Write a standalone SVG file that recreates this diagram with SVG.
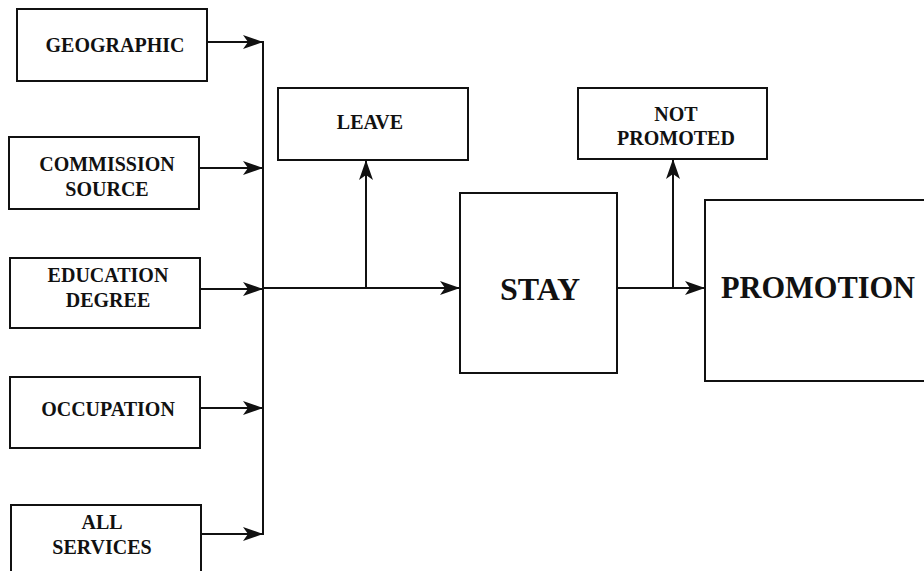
<svg xmlns="http://www.w3.org/2000/svg" width="924" height="571" viewBox="0 0 924 571">
<style>
.box{fill:#fff;stroke:#111;stroke-width:2}
.t{font-family:"Liberation Serif","Times New Roman",serif;font-weight:bold;font-size:20px;fill:#111;text-anchor:middle}
.big{font-size:32px}
.ln{fill:none;stroke:#111;stroke-width:2}
</style>
<defs>
<marker id="ah" markerUnits="userSpaceOnUse" markerWidth="22" markerHeight="16" refX="20" refY="8" orient="auto">
<path d="M0,1 L20,8 L0,15 L5,8 z" fill="#111"/>
</marker>
</defs>
<rect width="924" height="571" fill="#fff"/>
<g id="geographic"><rect class="box" x="17" y="9" width="190" height="72"/><text class="t" x="115" y="52">GEOGRAPHIC</text></g>
<g id="commission"><rect class="box" x="9" y="137" width="190" height="72"/><text class="t" x="107" y="171">COMMISSION</text><text class="t" x="107" y="196">SOURCE</text></g>
<g id="education"><rect class="box" x="10" y="258" width="190" height="70"/><text class="t" x="108" y="282">EDUCATION</text><text class="t" x="108" y="307">DEGREE</text></g>
<g id="occupation"><rect class="box" x="10" y="377" width="190" height="71"/><text class="t" x="108" y="416">OCCUPATION</text></g>
<g id="allservices"><rect class="box" x="11" y="505" width="190" height="80"/><text class="t" x="102" y="529">ALL</text><text class="t" x="102" y="554">SERVICES</text></g>
<g id="leave"><rect class="box" x="278" y="88" width="190" height="72"/><text class="t" x="370" y="129">LEAVE</text></g>
<g id="stay"><rect class="box" x="460" y="193" width="157" height="180"/><text class="t big" x="540" y="300">STAY</text></g>
<g id="notpromoted"><rect class="box" x="578" y="88" width="189" height="71"/><text class="t" x="676" y="121">NOT</text><text class="t" x="676" y="145">PROMOTED</text></g>
<g id="promotion"><rect class="box" x="705" y="200" width="230" height="181"/><text class="t big" x="721" y="298" style="text-anchor:start" textLength="194" lengthAdjust="spacingAndGlyphs">PROMOTION</text></g>
<g id="connectors">
<line class="ln" x1="263" y1="41" x2="263" y2="535"/>
<line class="ln" x1="207" y1="42" x2="263" y2="42" marker-end="url(#ah)"/>
<line class="ln" x1="199" y1="168" x2="263" y2="168" marker-end="url(#ah)"/>
<line class="ln" x1="200" y1="289" x2="263" y2="289" marker-end="url(#ah)"/>
<line class="ln" x1="200" y1="408" x2="263" y2="408" marker-end="url(#ah)"/>
<line class="ln" x1="201" y1="534" x2="263" y2="534" marker-end="url(#ah)"/>
<line class="ln" x1="263" y1="288" x2="460" y2="288" marker-end="url(#ah)"/>
<line class="ln" x1="366" y1="288" x2="366" y2="160" marker-end="url(#ah)"/>
<line class="ln" x1="617" y1="288" x2="705" y2="288" marker-end="url(#ah)"/>
<line class="ln" x1="673" y1="288" x2="673" y2="159" marker-end="url(#ah)"/>
</g>
</svg>
